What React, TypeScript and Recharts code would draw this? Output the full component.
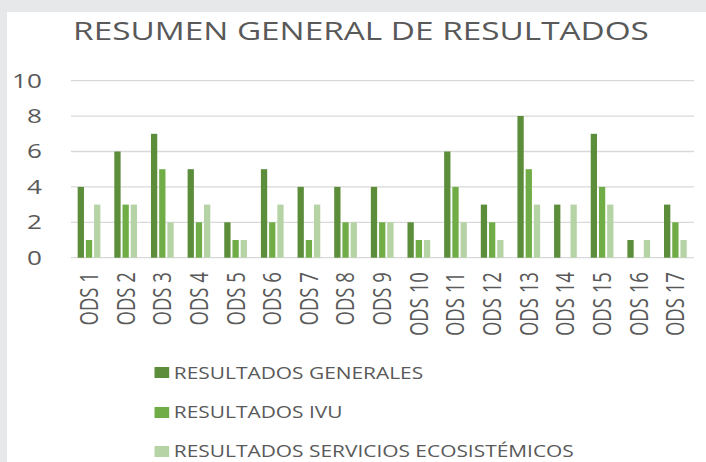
import React from 'react';
import { BarChart, Bar, XAxis, YAxis, CartesianGrid } from 'recharts';

const categories = ['ODS 1', 'ODS 2', 'ODS 3', 'ODS 4', 'ODS 5', 'ODS 6', 'ODS 7', 'ODS 8', 'ODS 9', 'ODS 10', 'ODS 11', 'ODS 12', 'ODS 13', 'ODS 14', 'ODS 15', 'ODS 16', 'ODS 17'];
const generales = [4, 6, 7, 5, 2, 5, 4, 4, 4, 2, 6, 3, 8, 3, 7, 1, 3];
const ivu = [1, 3, 5, 2, 1, 2, 1, 2, 2, 1, 4, 2, 5, 0, 4, 0, 2];
const servicios = [3, 3, 2, 3, 1, 3, 3, 2, 2, 1, 2, 1, 3, 3, 3, 1, 1];
const yTicks = [0, 2, 4, 6, 8, 10];
const title = 'RESUMEN GENERAL DE RESULTADOS';

const seriesNames = ['RESULTADOS GENERALES', 'RESULTADOS IVU', 'RESULTADOS SERVICIOS ECOSISTÉMICOS'];
const seriesKeys = ['generales', 'ivu', 'servicios'];
const seriesColors = ['#5B8D3B', '#70AD47', '#B6D3A6'];

const data = categories.map((c, i) => ({
  name: c,
  generales: generales[i],
  ivu: ivu[i],
  servicios: servicios[i],
}));

const FONT = '"Open Sans", sans-serif';
const TEXT = '#595959';
const S = 706 / 530;

const XTick = (props: any) => {
  const { x, y, payload } = props;
  return (
    <g transform={`translate(${x},${y})`}>
      <text
        transform="rotate(-90)"
        x={-14.5}
        y={0}
        dy="0.35em"
        textAnchor="end"
        fill={TEXT}
        fontSize={18.5}
        fontFamily={FONT}
      >
        {payload.value}
      </text>
    </g>
  );
};

export default function App() {
  return (
    <div style={{ position: 'absolute', left: 0, top: 0, width: 706, height: 462, background: '#e7e8ea', overflow: 'hidden' }}>
      <div style={{ position: 'absolute', left: 7, top: 12, right: 0, bottom: 0, background: '#ffffff' }} />
      <div style={{ position: 'absolute', left: 0, top: 0, width: 530, height: 462, transform: `scaleX(${S})`, transformOrigin: '0 0' }}>
        <div
          style={{
            position: 'absolute',
            left: 0,
            top: 13,
            width: 542,
            textAlign: 'center',
            fontFamily: FONT,
            fontSize: 25,
            color: TEXT,
            whiteSpace: 'nowrap',
          }}
        >
          {title}
        </div>
        <div style={{ position: 'absolute', left: 0, top: 0 }}>
          <BarChart
            width={530}
            height={462}
            data={data}
            margin={{ top: 80.7, right: 9, bottom: 104.3, left: 0 }}
            barGap={1.43}
          >
            <CartesianGrid vertical={false} stroke="#d9d9d9" strokeWidth={1.3} />
            <XAxis
              dataKey="name"
              axisLine={false}
              tickLine={false}
              tickSize={0}
              tickMargin={0}
              interval={0}
              height={100}
              tick={<XTick />}
            />
            <YAxis
              width={53.3}
              domain={[0, 10]}
              ticks={yTicks}
              axisLine={false}
              tickLine={false}
              tickSize={0}
              tickMargin={21.8}
              tick={{ fill: TEXT, fontSize: 19.6, fontFamily: FONT }}
            />
            {seriesKeys.map((k, i) => (
              <Bar key={k} dataKey={k} name={seriesNames[i]} fill={seriesColors[i]} barSize={4.73} isAnimationActive={false} />
            ))}
          </BarChart>
        </div>
        {seriesNames.map((n, i) => (
          <div
            key={n}
            style={{
              position: 'absolute',
              left: 116.3,
              top: 362.8 + i * 39.2,
              height: 20,
              display: 'flex',
              alignItems: 'center',
              whiteSpace: 'nowrap',
            }}
          >
            <div style={{ width: 10.5, height: 11, background: seriesColors[i], marginRight: 3.7 }} />
            <span style={{ fontFamily: FONT, fontSize: 15.7, lineHeight: '20px', color: TEXT }}>{n}</span>
          </div>
        ))}
      </div>
    </div>
  );
}
